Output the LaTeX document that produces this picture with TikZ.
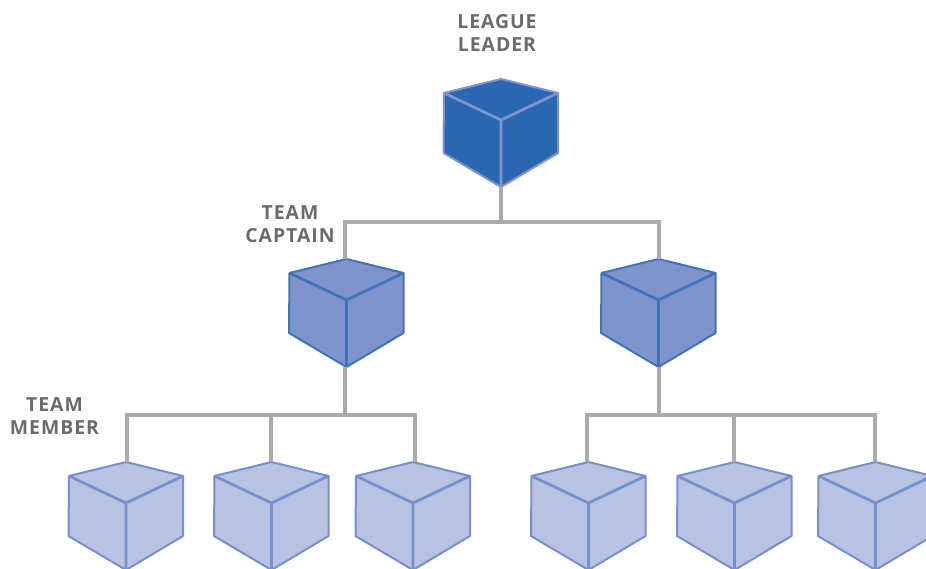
\documentclass[tikz,border=0pt]{standalone}
\usepackage{fontspec}
\setmainfont{Open Sans}[LetterSpace=5]
\definecolor{leadfill}{HTML}{2B66B1}
\definecolor{leadedge}{HTML}{7F94CC}
\definecolor{captfill}{HTML}{7F94CC}
\definecolor{captedge}{HTML}{4272B8}
\definecolor{membfill}{HTML}{B8C3E3}
\definecolor{membedge}{HTML}{7690CC}
\definecolor{wire}{HTML}{ABABAD}
\definecolor{labelgrey}{HTML}{6B6B6D}
\tikzset{
  anchorpt/.style={inner sep=0pt,minimum size=0pt,outer sep=0pt},
  wireline/.style={draw=wire,line width=3.1pt},
  cubelabel/.style={text=labelgrey,font=\fontsize{19.4}{23}\selectfont\bfseries,align=center,inner sep=0pt},
}
% name, apex x, apex y, fill, edge
\newcommand{\blockcube}[5]{%
  \begin{scope}[shift={(#2,#3)},line join=round]
    \fill[#4] (0,0) -- (57,14) -- (57,74) -- (0,108) -- (-57.5,74) -- (-57,14) -- cycle;
    \draw[#5,line width=2pt] (0,0) -- (57,14) -- (57,74) -- (0,108) -- (-57.5,74) -- (-57,14) -- cycle;
    \draw[#5,line width=2.8pt] (-57,14) -- (0,41) -- (57,14) (0,41) -- (0,108);
    \node[anchorpt] (#1top) at (0,0) {};
    \node[anchorpt] (#1bot) at (0,108) {};
  \end{scope}}
\begin{document}
\begin{tikzpicture}[x=1pt,y=-1pt]
\useasboundingbox (0,0) rectangle (926,569);
\clip (0,0) rectangle (926,569);
\coordinate (busA) at (501,222);
\coordinate (busB) at (345,415);
\coordinate (busC) at (659,415);
\blockcube{lead}{501}{79}{leadfill}{leadedge}
\blockcube{capa}{346.5}{259}{captfill}{captedge}
\blockcube{capb}{658.5}{259}{captfill}{captedge}
\blockcube{mema}{126}{462}{membfill}{membedge}
\blockcube{memb}{271.5}{462}{membfill}{membedge}
\blockcube{memc}{413}{462}{membfill}{membedge}
\blockcube{memd}{588.5}{462}{membfill}{membedge}
\blockcube{meme}{734.5}{462}{membfill}{membedge}
\blockcube{memf}{875.5}{462}{membfill}{membedge}
% connectors
\draw[wireline] (leadbot) -- (busA);
\draw[wireline] ([xshift=-1.5pt]capatop.north) |- (busA) -| ([xshift=0.5pt]capbtop.north);
\draw[wireline] ([xshift=-1.5pt]capabot.south) -- (busB);
\draw[wireline] ([xshift=0.5pt]capbbot.south) -- (busC);
\draw[wireline] ([xshift=1pt]mematop.north) |- (busB) -| ([xshift=2pt]memctop.north);
\draw[wireline] ([xshift=-0.5pt]membtop.north) -- ([xshift=-0.5pt]membtop.north |- busB);
\draw[wireline] ([xshift=-1.5pt]memdtop.north) |- (busC) -| ([xshift=-0.5pt]memftop.north);
\draw[wireline] ([xshift=-0.5pt]memetop.north) -- ([xshift=-0.5pt]memetop.north |- busC);
% labels
\node[cubelabel] (t1) at (497,33) {LEAGUE\\LEADER};
\node[cubelabel] (t2) at (290,224) {TEAM\\CAPTAIN};
\node[cubelabel] (t3) at (54.5,416) {TEAM\\MEMBER};
\end{tikzpicture}
\end{document}
